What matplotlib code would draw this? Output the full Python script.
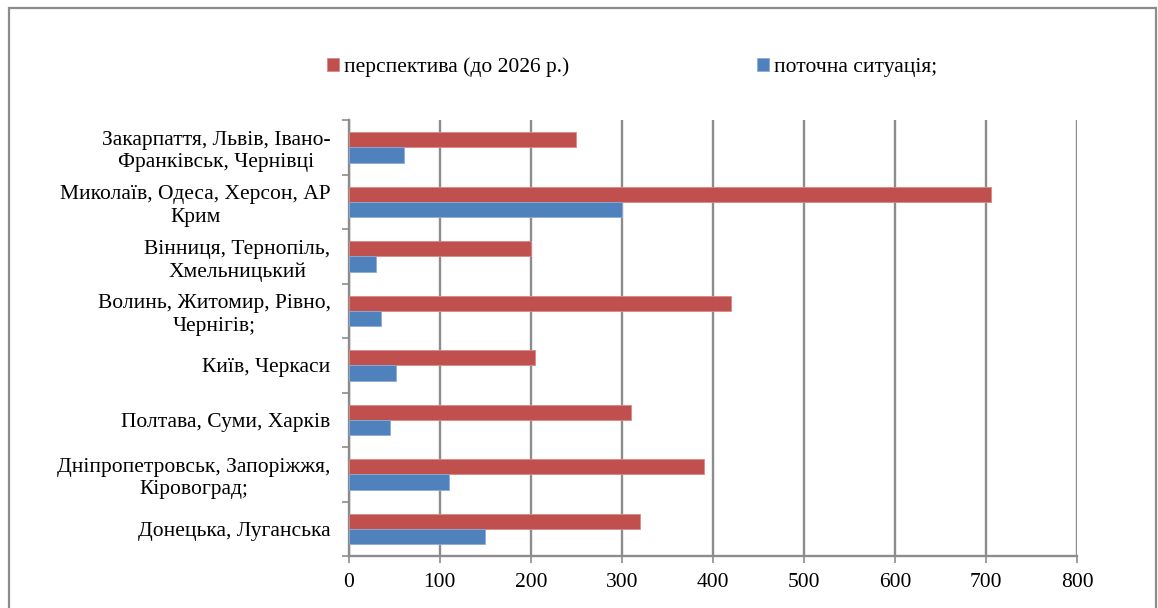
import matplotlib
matplotlib.use("Agg")
import matplotlib.pyplot as plt
from matplotlib.patches import Rectangle
import numpy as np

plt.rcParams["font.family"] = ["Liberation Serif", "DejaVu Serif"]

# categories listed bottom -> top
regions = [
    "Донецька, Луганська",
    "Дніпропетровськ, Запоріжжя,\nКіровоград;",
    "Полтава, Суми, Харків",
    "Київ, Черкаси",
    "Волинь, Житомир, Рівно,\nЧернігів;",
    "Вінниця, Тернопіль,\nХмельницький",
    "Миколаїв, Одеса, Херсон, АР\nКрим",
    "Закарпаття, Львів, Івано-\nФранківськ, Чернівці",
]
future = [320, 390, 310, 205, 420, 200, 705, 250]
current = [150, 110, 45, 52, 35, 30, 300, 61]
x_ticks = [0, 100, 200, 300, 400, 500, 600, 700, 800]

red = "#C0504D"
blue = "#4F81BD"
grey = "#8C8C8C"
fs = 15.5

fig = plt.figure(figsize=(11.58, 6.08), dpi=100)
ax = fig.add_axes([0.3011, 0.0855, 0.6292, 0.7171])

y = np.arange(len(regions))
h = 0.28
ax.barh(y + h / 2, future, height=h, color=red, edgecolor="#D98A88",
        linewidth=0.6, label="перспектива (до 2026 р.)", zorder=3)
ax.barh(y - h / 2, current, height=h, color=blue, edgecolor="#8FAAD6",
        linewidth=0.6, label="поточна ситуація;", zorder=3)

ax.set_xlim(0, 800)
ax.set_ylim(-0.5, len(regions) - 0.5)
ax.set_xticks(x_ticks)
ax.set_xticklabels([str(v) for v in x_ticks], fontsize=fs)
ax.xaxis.grid(True, color=grey, linewidth=1.7, zorder=0)
ax.tick_params(axis="x", length=5, width=1.2, color=grey, pad=7)

bounds = np.arange(-0.5, len(regions))
ax.set_yticks(bounds, minor=False)
ax.set_yticklabels([""] * len(bounds))
ax.set_yticks(y, minor=True)
ax.set_yticklabels(regions, minor=True, fontsize=fs, multialignment="center",
                   linespacing=1.25)
ax.tick_params(axis="y", which="major", length=5, width=1.2, color=grey)
ax.tick_params(axis="y", which="minor", length=0, pad=13)

for s in ["top", "right"]:
    ax.spines[s].set_visible(False)
for s in ["left", "bottom"]:
    ax.spines[s].set_color(grey)
    ax.spines[s].set_linewidth(1.7)

handles, labels = ax.get_legend_handles_labels()
fig.legend(handles, labels, loc="center", bbox_to_anchor=(0.5458, 1 - 67 / 608),
           ncol=2, frameon=False, fontsize=fs, handlelength=0.55,
           handleheight=0.55, handletextpad=0.25, columnspacing=8.7)

fig.add_artist(Rectangle((9 / 1158, -0.05), (1156 - 9) / 1158, 1.05 - 8 / 608,
                         transform=fig.transFigure, fill=False,
                         edgecolor=grey, linewidth=1.6, clip_on=False))

fig.savefig("out.png", dpi=100)
